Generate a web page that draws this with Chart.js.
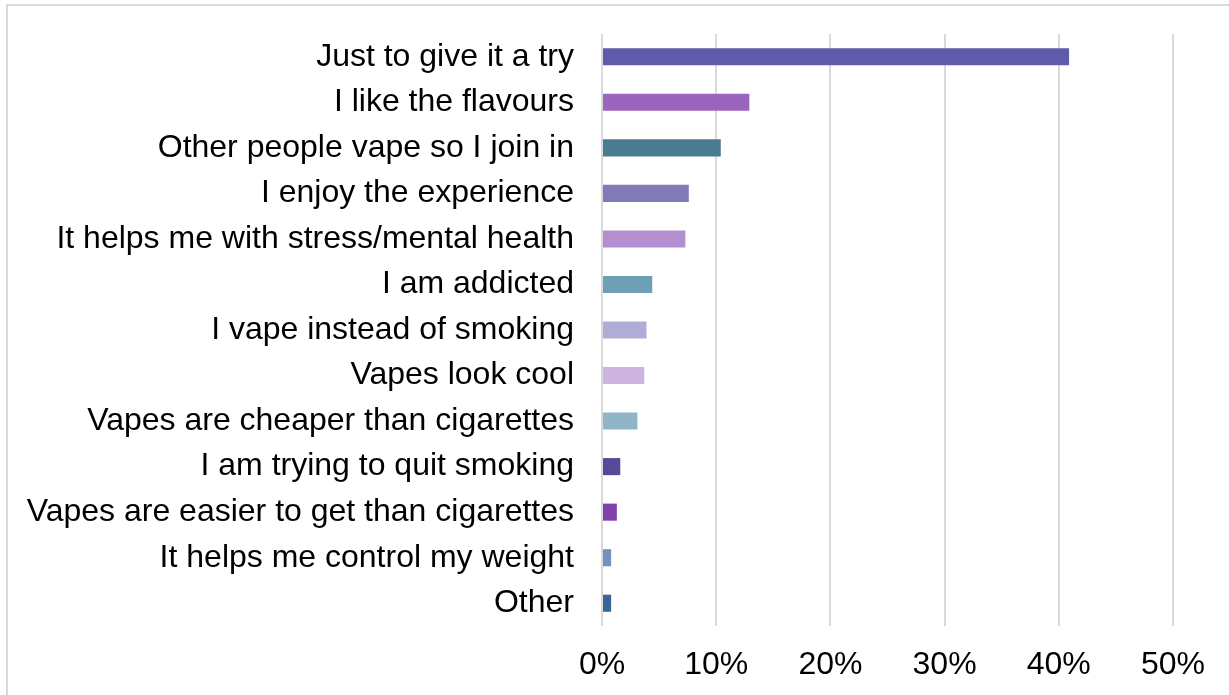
<!DOCTYPE html>
<html>
<head>
<meta charset="utf-8">
<script src="https://cdn.jsdelivr.net/npm/chart.js@4"></script>
<style>
  html, body { margin: 0; padding: 0; background: #fff; overflow: hidden; }
  #wrap { position: relative; width: 1229px; height: 695px; }
  #frame {
    position: absolute; left: 6px; top: 4px; right: -10px; bottom: -10px;
    border: 2px solid #d9d9d9; pointer-events: none;
  }
  canvas { position: absolute; left: 0; top: 0; }
</style>
</head>
<body>
<div id="wrap">
  <canvas id="chart" width="1229" height="695"></canvas>
  <div id="frame"></div>
</div>
<script>
// reasons for vaping (share of respondents)
const reasons = [
  'Just to give it a try',
  'I like the flavours',
  'Other people vape so I join in',
  'I enjoy the experience',
  'It helps me with stress/mental health',
  'I am addicted',
  'I vape instead of smoking',
  'Vapes look cool',
  'Vapes are cheaper than cigarettes',
  'I am trying to quit smoking',
  'Vapes are easier to get than cigarettes',
  'It helps me control my weight',
  'Other'
];
const shares = [40.9, 12.9, 10.4, 7.6, 7.3, 4.4, 3.9, 3.7, 3.1, 1.6, 1.3, 0.8, 0.8];
const barColors = [
  '#5f5aab', '#9b65bf', '#4a7c91', '#807ab9', '#b48fd0', '#6ea0b5', '#afadd6',
  '#cdb3e0', '#90b5c8', '#544a99', '#8040ad', '#7890c0', '#3b6496'
];
const xTicks = [0, 10, 20, 30, 40, 50];

const FONT = '"Liberation Sans", Arial, sans-serif';

const ctx = document.getElementById('chart');
new Chart(ctx, {
  type: 'bar',
  data: {
    labels: reasons,
    datasets: [{
      data: shares,
      backgroundColor: barColors,
      borderWidth: 0,
      barPercentage: 1,
      categoryPercentage: 0.375
    }]
  },
  options: {
    indexAxis: 'y',
    responsive: false,
    animation: false,
    layout: { padding: { left: 0, right: 56, top: 34, bottom: 0 } },
    plugins: { legend: { display: false }, tooltip: { enabled: false } },
    scales: {
      x: {
        min: 0, max: 50,
        afterBuildTicks: (axis) => { axis.ticks = xTicks.map(v => ({ value: v })); },
        afterFit: (axis) => {
          axis.height = 695 - 626;
          axis.paddingLeft = 0;
          axis.paddingRight = 0;
        },
        border: { display: false },
        grid: { color: '#d9d9d9', lineWidth: 2, drawTicks: false },
        ticks: {
          padding: 20,
          color: '#000',
          font: { family: FONT, size: 32 },
          callback: (v) => v + '%'
        }
      },
      y: {
        afterFit: (axis) => {
          axis.width = 602;
          axis.paddingTop = 0;
          axis.paddingBottom = 0;
        },
        border: { display: false },
        grid: { display: false, drawTicks: false },
        ticks: {
          padding: 28,
          color: '#000',
          autoSkip: false,
          font: { family: FONT, size: 32 }
        }
      }
    }
  }
});
</script>
</body>
</html>
